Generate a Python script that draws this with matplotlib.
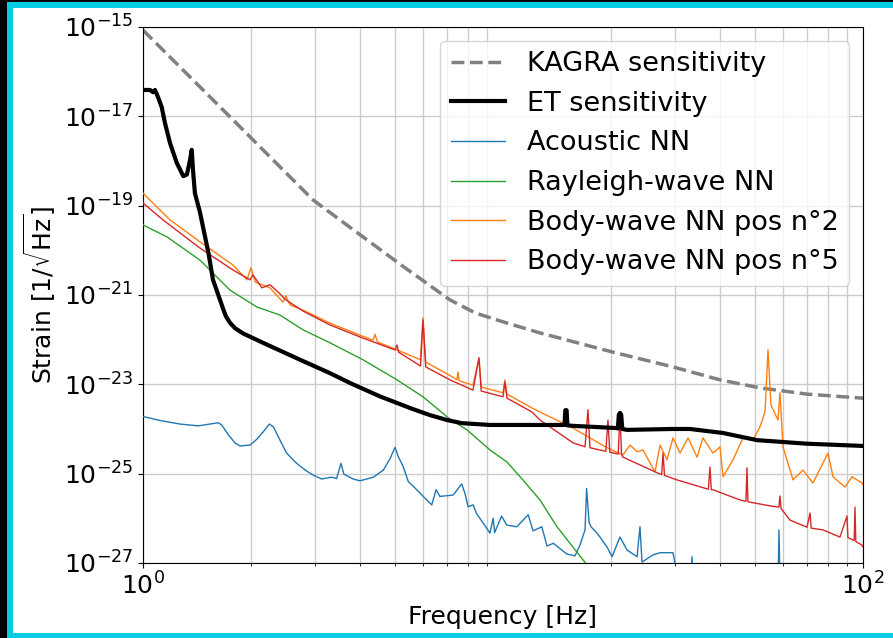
import numpy as np
import matplotlib
matplotlib.use("Agg")
import matplotlib.pyplot as plt
from matplotlib.patches import Rectangle
from matplotlib.ticker import LogLocator, NullFormatter, NullLocator

# ---------------- data (frequency in Hz, log10 of strain in 1/sqrt(Hz)) ----------------
kagra_f = [1.0, 1.744, 2.966, 3.526, 5.175, 7.123, 8.363, 9.81, 12.67, 20.21, 29.66, 40.07, 51.75, 69.9, 100]
kagra_logh = [-15.07, -17.01, -18.87, -19.32, -20.31, -21.11, -21.40, -21.58, -21.85, -22.28, -22.61, -22.90,
              -23.08, -23.22, -23.31]

et_f = [1.0, 1.046, 1.066, 1.080, 1.101, 1.127, 1.151, 1.189, 1.241, 1.294, 1.325, 1.351, 1.366, 1.377, 1.394,
        1.44, 1.52, 1.565, 1.668, 1.70, 1.744, 1.80, 1.896, 2.154, 2.731, 3.306, 3.758, 4.55, 5.6, 6.27, 6.99,
        7.69, 9.2, 10.26, 14.68, 14.82, 14.90, 15.02, 15.10, 15.65, 20.74, 20.85, 20.98, 21.13, 21.3, 21.45,
        22.11, 29.66, 33.08, 40.85, 50.76, 69.9, 100]
et_logh = [-16.41, -16.41, -16.46, -16.41, -16.57, -16.79, -17.15, -17.60, -18.04, -18.34, -18.30, -17.98,
           -17.75, -18.20, -18.72, -19.15, -20.06, -20.66, -21.30, -21.48, -21.62, -21.74, -21.86, -22.07,
           -22.45, -22.75, -22.97, -23.27, -23.55, -23.69, -23.80, -23.87, -23.91, -23.91, -23.91, -23.91,
           -23.58, -23.58, -23.92, -23.93, -23.98, -23.99, -23.68, -23.64, -23.68, -24.00, -24.02, -24.00,
           -24.00, -24.09, -24.25, -24.33, -24.38]

acoustic_f = [1.0, 1.115, 1.267, 1.425, 1.535, 1.619, 1.655, 1.726, 1.801, 1.859, 1.983, 2.071, 2.160, 2.244,
              2.302, 2.402, 2.506, 2.672, 2.846, 2.969, 3.135, 3.341, 3.450, 3.548, 3.614, 3.836, 4.007, 4.363,
              4.652, 4.860, 5.012, 5.12, 5.28, 5.46, 5.63, 5.89, 6.14, 6.34, 6.52, 6.68, 7.27, 7.68, 7.84, 8.00,
              8.26, 8.44, 9.20, 9.39, 9.48, 9.91, 10.24, 10.92, 11.75, 12.12, 12.82, 13.25, 13.80, 15.04, 15.85,
              16.36, 16.9, 17.07, 17.2, 17.35, 17.6, 18.1, 18.60, 19.45, 20.09, 21.13, 22.11, 23.57, 24.02, 24.33,
              26.10, 27.31, 29.66, 30.04, 31.0, 33.2, 33.5, 33.8, 58.1, 58.43, 58.8, 100]
acoustic_logh = [-23.72, -23.81, -23.89, -23.93, -23.89, -23.86, -23.91, -24.13, -24.31, -24.38, -24.36, -24.23,
                 -24.06, -23.89, -23.95, -24.25, -24.54, -24.77, -24.94, -25.03, -25.12, -25.08, -25.11, -24.77,
                 -25.01, -25.12, -25.16, -25.08, -24.92, -24.66, -24.41, -24.62, -24.84, -25.18, -25.28, -25.44,
                 -25.59, -25.70, -25.36, -25.51, -25.48, -25.23, -25.44, -25.74, -25.70, -25.89, -26.33, -26.00,
                 -26.32, -25.95, -26.15, -26.19, -25.92, -26.28, -26.19, -26.62, -26.56, -26.80, -26.84, -26.60,
                 -26.26, -25.33, -25.70, -26.10, -26.20, -26.30, -26.42, -26.64, -26.86, -26.42, -26.71, -26.86,
                 -26.19, -26.98, -26.82, -26.77, -26.77, -27.00, -27.4, -27.4, -26.86, -27.4, -27.4, -26.26, -27.4,
                 -27.5]

rayleigh_f = [1.0, 1.166, 1.44, 1.744, 2.073, 2.402, 2.783, 3.306, 4.084, 5.076, 5.995, 7.123, 7.943, 9.203,
              10.26, 11.36, 12.67, 14.13, 16.68, 17.4]
rayleigh_logh = [-19.43, -19.70, -20.22, -20.89, -21.27, -21.45, -21.78, -22.07, -22.45, -22.90, -23.28, -23.78,
                 -24.02, -24.47, -24.74, -25.14, -25.59, -26.19, -26.93, -27.1]

body2_f = [1.0, 1.189, 1.44, 1.778, 1.945, 1.995, 2.05, 2.253, 2.448, 2.495, 2.56, 2.783, 3.306, 4.007, 4.356,
           4.41, 4.48, 5.076, 5.9, 5.995, 6.1, 6.683, 7.262, 7.45, 7.50, 7.56, 8.254, 8.577, 8.70, 10.0, 10.12,
           10.26, 12.04, 12.67, 15.65, 17.44, 19.45, 21.54, 22.54, 23.57, 24.48, 26.44, 27.31, 28.55, 29.66,
           31.02, 32.66, 34.59, 35.94, 38.31, 40.07, 40.85, 43.55, 46.42, 49.48, 51.75, 53.43, 54.47, 55.5,
           58.05, 58.8, 59.95, 63.92, 68.13, 72.62, 79.94, 82.54, 89.13, 93.2, 99.4, 100]
body2_logh = [-18.72, -19.32, -19.81, -20.33, -20.66, -20.39, -20.71, -20.84, -21.16, -21.02, -21.22, -21.34,
              -21.63, -21.90, -22.01, -21.88, -22.05, -22.23, -22.45, -21.51, -22.50, -22.68, -22.84, -22.90,
              -22.72, -22.92, -23.02, -22.41, -23.06, -23.19, -22.90, -23.22, -23.53, -23.62, -23.98, -24.20,
              -24.42, -24.58, -24.36, -24.51, -24.47, -24.96, -24.36, -24.69, -24.20, -24.54, -24.20, -24.63,
              -24.20, -24.54, -24.40, -25.07, -24.69, -24.20, -24.25, -23.95, -23.62, -22.23, -23.46, -23.80,
              -23.19, -24.40, -25.14, -24.92, -25.21, -24.54, -25.07, -25.30, -25.07, -25.21, -25.25]

body5_f = [1.0, 1.137, 1.44, 1.778, 1.983, 2.02, 2.14, 2.253, 2.37, 2.495, 2.783, 3.306, 4.007, 5.012, 5.076,
           5.13, 5.9, 5.995, 6.1, 7.123, 8.254, 8.577, 8.70, 10.0, 10.12, 10.26, 12.04, 12.67, 15.65, 16.9, 17.22,
           17.44, 19.3, 19.57, 19.8, 20.9, 21.13, 21.35, 21.54, 26.78, 27.6, 27.83, 28.1, 30.43, 37.2, 37.58,
           37.9, 38.31, 45.54, 47.3, 47.62, 47.9, 55.0, 58.4, 58.8, 59.2, 62.69, 69.9, 71.27, 71.8, 77.43, 86.3,
           90.28, 90.8, 94.5, 95.0, 95.5, 99.4, 100]
body5_logh = [-18.94, -19.32, -19.95, -20.44, -20.66, -20.55, -20.84, -20.77, -20.93, -21.11, -21.36, -21.67,
              -21.94, -22.23, -22.12, -22.28, -22.59, -21.56, -22.61, -22.90, -23.13, -22.41, -23.15, -23.28,
              -22.95, -23.31, -23.62, -23.80, -24.31, -24.40, -23.57, -24.42, -24.50, -23.80, -24.52, -24.56,
              -23.64, -24.58, -24.63, -24.98, -25.02, -24.54, -25.04, -25.14, -25.35, -24.85, -25.36, -25.36,
              -25.59, -25.62, -24.87, -25.63, -25.72, -25.75, -25.50, -25.78, -26.04, -26.20, -25.88, -26.22,
              -26.26, -26.42, -25.95, -26.43, -26.50, -25.75, -26.52, -26.60, -26.64]

y_ticks = [1e-15, 1e-17, 1e-19, 1e-21, 1e-23, 1e-25, 1e-27]
x_ticks = [1, 100]

# ---------------- figure ----------------
fig = plt.figure(figsize=(8.93, 6.38), dpi=100, facecolor="black")
frame = Rectangle((10 / 893, 2.5 / 638), 1.2, 630.5 / 638, transform=fig.transFigure,
                  facecolor="white", edgecolor="#06cde3", linewidth=4.3, zorder=-10)
fig.patches.append(frame)

ax = fig.add_axes([0.1601, 0.1176, 0.8063, 0.8401])
ax.set_facecolor("white")

def h(vals):
    return 10.0 ** np.asarray(vals)

ax.loglog(kagra_f, h(kagra_logh), ls="--", color="gray", lw=2.5, label="KAGRA sensitivity", zorder=2)
ax.loglog(et_f, h(et_logh), color="black", lw=3, label="ET sensitivity", zorder=4)
ax.loglog(acoustic_f, h(acoustic_logh), color="tab:blue", lw=1, label="Acoustic NN", zorder=3)
ax.loglog(rayleigh_f, h(rayleigh_logh), color="tab:green", lw=1, label="Rayleigh-wave NN", zorder=3)
ax.loglog(body2_f, h(body2_logh), color="tab:orange", lw=1, label="Body-wave NN pos n°2", zorder=3)
ax.loglog(body5_f, h(body5_logh), color="tab:red", lw=1, label="Body-wave NN pos n°5", zorder=3)

ax.set_xlim(1, 100)
ax.set_ylim(1e-27, 1e-15)
ax.set_xticks(x_ticks)
ax.xaxis.set_minor_locator(LogLocator(base=10, subs=np.arange(2, 10)))
ax.xaxis.set_minor_formatter(NullFormatter())
ax.set_yticks(y_ticks)
ax.yaxis.set_minor_locator(NullLocator())
ax.tick_params(labelsize=18)

ax.grid(True, which="both", axis="x", color="0.8", lw=1)
ax.grid(True, which="major", axis="y", color="0.8", lw=1)
ax.set_axisbelow(True)

ax.set_xlabel("Frequency [Hz]", fontsize=18)
ax.set_ylabel(r"Strain [1/$\sqrt{\mathrm{Hz}}$]", fontsize=18)
ax.legend(loc="upper right", fontsize=19.5)

fig.savefig("out.png", dpi=100, facecolor=fig.get_facecolor())
